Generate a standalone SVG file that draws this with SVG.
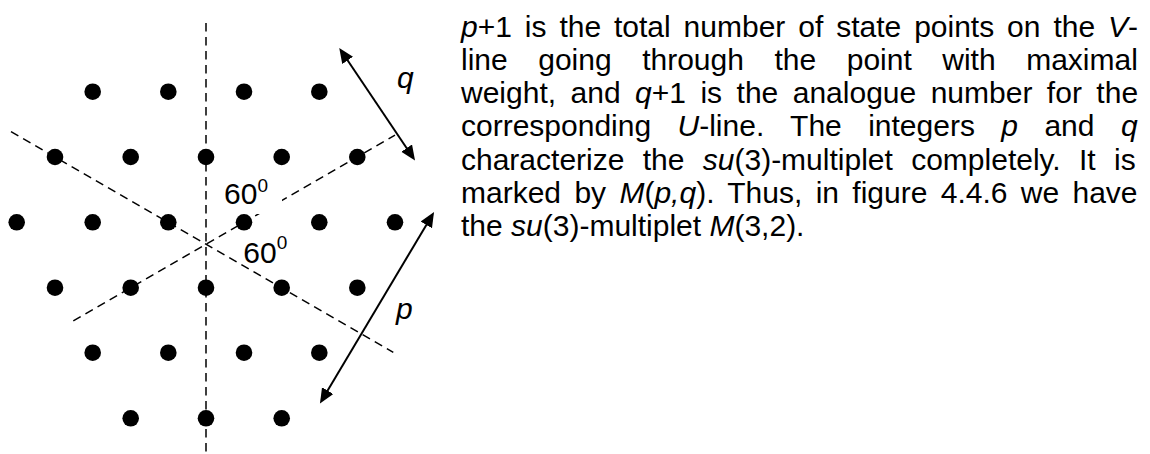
<svg xmlns="http://www.w3.org/2000/svg" width="1150" height="454" viewBox="0 0 1150 454">
<style>
.dot{fill:#000}
.dash{stroke:#000;stroke-width:1.5;stroke-dasharray:8.5 5.5;fill:none}
.arr{stroke:#000;stroke-width:2;fill:none;marker-start:url(#ah);marker-end:url(#ah)}
.t{font-family:"Liberation Sans",Arial,sans-serif;font-size:30px;fill:#000}
.i{font-style:italic}
.sup{font-size:19px}
</style>
<defs>
<marker id="ah" markerUnits="userSpaceOnUse" markerWidth="16" markerHeight="14" refX="11" refY="6.5" orient="auto-start-reverse" viewBox="0 0 16 14">
<path d="M0,0 L15,6.5 L0,13 Z" fill="#000"/>
</marker>
</defs>
<rect width="1150" height="454" fill="#fff"/>
<g id="connectors">
<line class="dash" x1="206" y1="23" x2="206" y2="452"/>
<line class="dash" x1="11" y1="131.6" x2="393.3" y2="352.3"/>
<line class="dash" x1="73.3" y1="320.8" x2="395" y2="135.1"/>
<line class="arr" x1="341.5" y1="51.3" x2="412.8" y2="157.2"/>
<line class="arr" x1="322" y1="400.1" x2="432" y2="215.4"/>
</g>
<g id="dots">
<circle class="dot" cx="92.7" cy="91.7" r="8.3"/><circle class="dot" cx="168.3" cy="91.7" r="8.3"/><circle class="dot" cx="244" cy="91.7" r="8.3"/><circle class="dot" cx="319.3" cy="91.7" r="8.3"/>
<circle class="dot" cx="55" cy="157" r="8.3"/><circle class="dot" cx="130.7" cy="157" r="8.3"/><circle class="dot" cx="206" cy="157" r="8.3"/><circle class="dot" cx="281.7" cy="157" r="8.3"/><circle class="dot" cx="357.3" cy="157" r="8.3"/>
<circle class="dot" cx="16.7" cy="222.3" r="8.3"/><circle class="dot" cx="92.7" cy="222.3" r="8.3"/><circle class="dot" cx="168.3" cy="222.3" r="8.3"/><circle class="dot" cx="244" cy="222.3" r="8.3"/><circle class="dot" cx="319.3" cy="222.3" r="8.3"/><circle class="dot" cx="395" cy="222.3" r="8.3"/>
<circle class="dot" cx="55" cy="287.7" r="8.3"/><circle class="dot" cx="130.7" cy="287.7" r="8.3"/><circle class="dot" cx="206" cy="287.7" r="8.3"/><circle class="dot" cx="281.7" cy="287.7" r="8.3"/><circle class="dot" cx="357.3" cy="287.7" r="8.3"/>
<circle class="dot" cx="92.7" cy="352.7" r="8.3"/><circle class="dot" cx="168.3" cy="352.7" r="8.3"/><circle class="dot" cx="244" cy="352.7" r="8.3"/><circle class="dot" cx="319.3" cy="352.7" r="8.3"/>
<circle class="dot" cx="130.7" cy="418.3" r="8.3"/><circle class="dot" cx="206" cy="418.3" r="8.3"/><circle class="dot" cx="281.7" cy="418.3" r="8.3"/>
</g>
<g id="angle1">
<rect x="214" y="172" width="68" height="42" fill="#fff"/>
<text class="t" x="224" y="204.3">60<tspan class="sup" dy="-12">0</tspan></text>
</g>
<g id="angle2">
<text class="t" x="243.3" y="263.3">60<tspan class="sup" dy="-14">0</tspan></text>
</g>
<g id="label-q"><text class="t i" x="397" y="87.5">q</text></g>
<g id="label-p"><text class="t i" x="396" y="318.5">p</text></g>
<g id="paragraph">
<text class="t" x="461" y="36.5" word-spacing="4.58"><tspan class="i">p</tspan>+1 is the total number of state points on the <tspan class="i">V</tspan>-</text>
<text class="t" x="461" y="69.8" word-spacing="22.2">line going through the point with maximal</text>
<text class="t" x="461" y="103.1" word-spacing="6.14">weight, and <tspan class="i">q</tspan>+1 is the analogue number for the</text>
<text class="t" x="461" y="136.4" word-spacing="18.07">corresponding <tspan class="i">U</tspan>-line. The integers <tspan class="i">p</tspan> and <tspan class="i">q</tspan></text>
<text class="t" x="461" y="169.7" word-spacing="10">characterize the <tspan class="i">su</tspan>(3)-multiplet completely. It is</text>
<text class="t" x="461" y="203" word-spacing="5.01">marked by <tspan class="i">M</tspan>(<tspan class="i">p,q</tspan>). Thus, in figure 4.4.6 we have</text>
<text class="t" x="461" y="236.3">the <tspan class="i">su</tspan>(3)-multiplet <tspan class="i">M</tspan>(3,2).</text>
</g>
</svg>
